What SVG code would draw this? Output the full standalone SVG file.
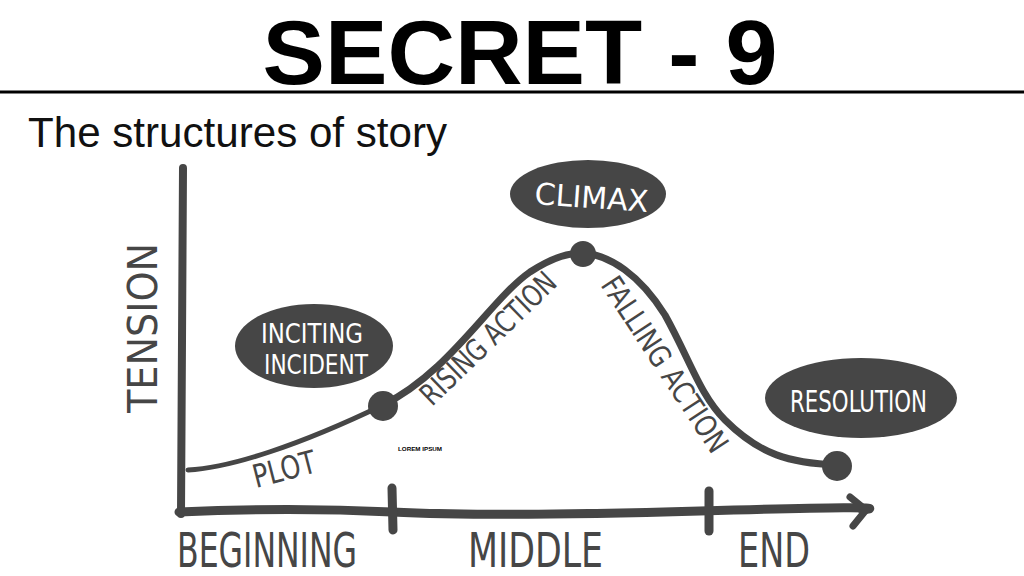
<svg xmlns="http://www.w3.org/2000/svg" width="1024" height="576" viewBox="0 0 1024 576">
<style>
.ink{fill:none;stroke:#464646;stroke-linecap:round;stroke-linejoin:round}
.blob{fill:#464646}
.hw{font-family:"DejaVu Sans Condensed","DejaVu Sans",sans-serif;fill:#464646}
.wt{font-family:"DejaVu Sans Condensed","DejaVu Sans",sans-serif;fill:#ffffff}
</style>
<rect width="1024" height="576" fill="#ffffff"/>
<g id="title">
<text x="520" y="84" text-anchor="middle" font-family="Liberation Sans, Arial, sans-serif" font-weight="bold" font-size="90" textLength="515" lengthAdjust="spacingAndGlyphs" fill="#000">SECRET - 9</text>
<line x1="0" y1="92" x2="1024" y2="92" stroke="#000" stroke-width="3"/>
<text x="28" y="147" font-family="Liberation Sans, Arial, sans-serif" font-size="42" textLength="419" lengthAdjust="spacingAndGlyphs" fill="#111">The structures of story</text>
</g>
<g id="axes">
<path class="ink" d="M183 168 L181 514" stroke-width="8"/>
<path class="ink" d="M179 512 Q290 507 392 512 T700 511 T862 510" stroke-width="9"/>
<polyline class="ink" points="850,497 866,510 853,526" stroke-width="7"/>
<line class="ink" x1="392" y1="488" x2="393" y2="530" stroke-width="9"/>
<line class="ink" x1="709" y1="491" x2="709" y2="531" stroke-width="9"/>
<text class="hw" transform="translate(157,413) rotate(-90)" font-size="40" textLength="170" lengthAdjust="spacingAndGlyphs">TENSION</text>
<text class="hw" x="177" y="567" font-size="48" textLength="180" lengthAdjust="spacingAndGlyphs">BEGINNING</text>
<text class="hw" x="468" y="567" font-size="48" textLength="135" lengthAdjust="spacingAndGlyphs">MIDDLE</text>
<text class="hw" x="738" y="567" font-size="48" textLength="72" lengthAdjust="spacingAndGlyphs">END</text>
</g>
<g id="connectors">
<path class="ink" d="M188 470 C230 468 300 445 383 405" stroke-width="5"/>
<path class="ink" d="M383 405 C450 372 490 300 530 272 C555 256 570 253 583 253 C610 255 640 275 665 315 C690 360 700 395 725 420 C760 455 790 463 837 465" stroke-width="7"/>
<text class="hw" transform="translate(256,488) rotate(-14.5)" font-size="32" textLength="64" lengthAdjust="spacingAndGlyphs">PLOT</text>
<text class="hw" transform="translate(432,407) rotate(-44)" font-size="30" textLength="176" lengthAdjust="spacingAndGlyphs">RISING ACTION</text>
<text class="hw" transform="translate(600,285) rotate(56.6)" font-size="30" textLength="204" lengthAdjust="spacingAndGlyphs">FALLING ACTION</text>
<text x="398" y="451" font-family="Liberation Sans, Arial, sans-serif" font-weight="bold" font-size="6" textLength="44" lengthAdjust="spacingAndGlyphs" fill="#000">LOREM IPSUM</text>
</g>
<g id="node-inciting">
<ellipse class="blob" cx="314" cy="346" rx="79" ry="42"/>
<circle class="blob" cx="383" cy="406" r="15"/>
<text class="wt" x="261" y="343" font-size="26" textLength="102" lengthAdjust="spacingAndGlyphs">INCITING</text>
<text class="wt" x="264" y="374" font-size="26" textLength="104" lengthAdjust="spacingAndGlyphs">INCIDENT</text>
</g>
<g id="node-climax">
<ellipse class="blob" cx="588" cy="194" rx="78" ry="34"/>
<circle class="blob" cx="583" cy="254" r="13"/>
<text class="wt" transform="translate(534,204) rotate(4)" font-size="30" textLength="114" lengthAdjust="spacingAndGlyphs">CLIMAX</text>
</g>
<g id="node-resolution">
<ellipse class="blob" cx="861" cy="398" rx="96" ry="40"/>
<circle class="blob" cx="837" cy="466" r="15"/>
<text class="wt" x="790" y="412" font-size="30" textLength="137" lengthAdjust="spacingAndGlyphs">RESOLUTION</text>
</g>
</svg>
